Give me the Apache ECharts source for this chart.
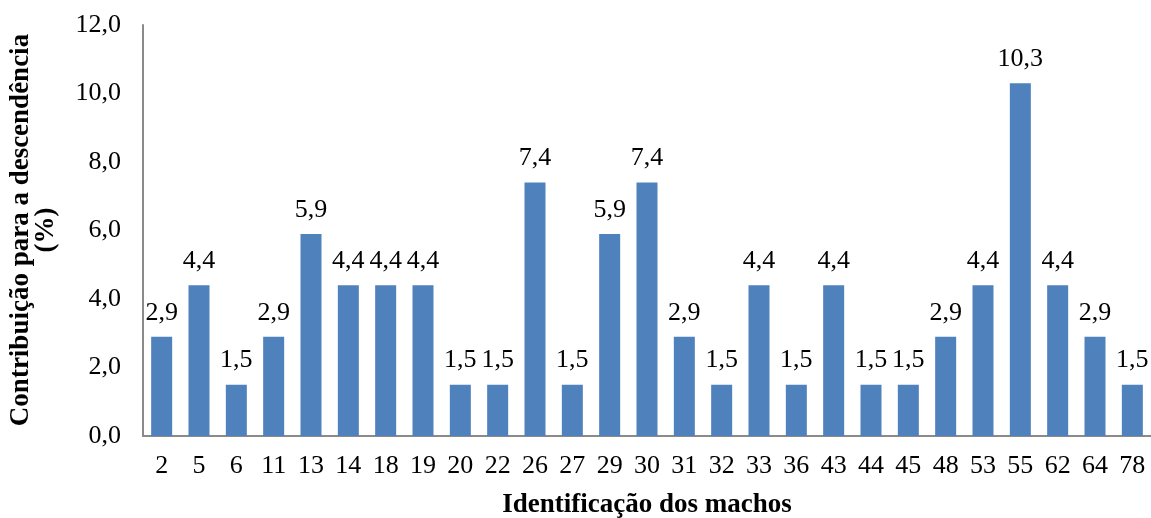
<!DOCTYPE html>
<html>
<head>
<meta charset="utf-8">
<script src="https://cdn.jsdelivr.net/npm/echarts@6/dist/echarts.min.js"></script>
<style>html,body{margin:0;padding:0;background:#fff}#c{width:1151px;height:518px}</style>
</head>
<body>
<div id="c"></div>
<script>
const categories = ['2','5','6','11','13','14','18','19','20','22','26','27','29','30','31','32','33','36','43','44','45','48','53','55','62','64','78'];
const values = [2.9,4.4,1.5,2.9,5.9,4.4,4.4,4.4,1.5,1.5,7.4,1.5,5.9,7.4,2.9,1.5,4.4,1.5,4.4,1.5,1.5,2.9,4.4,10.3,4.4,2.9,1.5];
const yTitle = 'Contribuição para a descendência\n(%)';
const xTitle = 'Identificação dos machos';

const FONT = '"Liberation Serif", "Times New Roman", serif';
const fmt = v => Number(v).toFixed(1).replace('.', ',');

const chart = echarts.init(document.getElementById('c'), null, {renderer: 'canvas'});
chart.setOption({
  backgroundColor: '#ffffff',
  animation: false,
  grid: {left: 143, right: 0, top: 25, bottom: 82},
  xAxis: {
    type: 'category',
    data: categories,
    axisLine: {show: true, lineStyle: {color: '#8a8a8a', width: 2}},
    axisTick: {show: false},
    axisLabel: {color: '#000', fontFamily: FONT, fontSize: 26, margin: 17}
  },
  yAxis: {
    type: 'value',
    min: 0, max: 12, interval: 2,
    splitLine: {show: false},
    axisLine: {show: true, lineStyle: {color: '#8a8a8a', width: 2}},
    axisTick: {show: false},
    axisLabel: {color: '#000', fontFamily: FONT, fontSize: 26, margin: 22, formatter: v => fmt(v)}
  },
  series: [{
    type: 'bar',
    data: values,
    barWidth: 21,
    itemStyle: {color: '#4F81BD'},
    label: {show: true, position: 'top', distance: 11, color: '#000', fontFamily: FONT, fontSize: 26,
      formatter: p => fmt(p.value)}
  }],
  graphic: [
    {type: 'text', x: 34, y: 230, rotation: Math.PI/2,
      style: {text: yTitle, fontFamily: FONT, fontSize: 27, fontWeight: 'bold', fill: '#000',
        textAlign: 'center', textVerticalAlign: 'middle', lineHeight: 25}},
    {type: 'text', x: 647, y: 505,
      style: {text: xTitle, fontFamily: FONT, fontSize: 27, fontWeight: 'bold', fill: '#000',
        textAlign: 'center', textVerticalAlign: 'middle'}}
  ]
});
</script>
</body>
</html>
